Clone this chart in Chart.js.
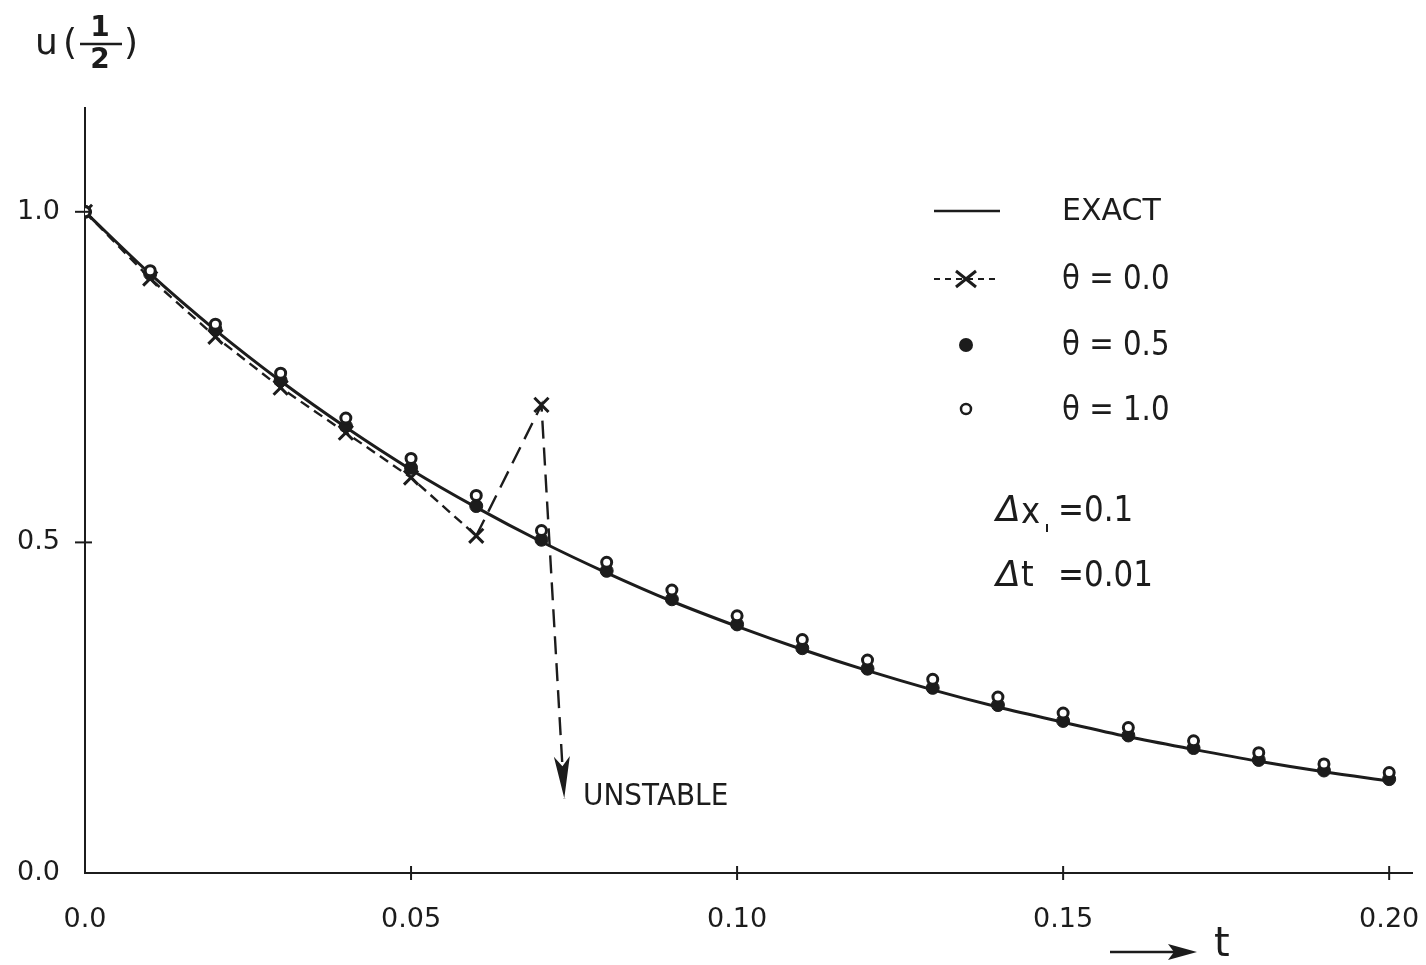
<!DOCTYPE html>
<html>
<head>
<meta charset="utf-8">
<script src="https://cdn.jsdelivr.net/npm/chart.js@4"></script>
<style>
  html, body { margin: 0; padding: 0; background: #fff; }
  canvas { display: block; }
</style>
</head>
<body>
<canvas id="wykr" width="1426" height="965"></canvas>
<script>
// t values (time steps, dt = 0.01)
const tValues = [0, 0.01, 0.02, 0.03, 0.04, 0.05, 0.06, 0.07, 0.08, 0.09, 0.10,
  0.11, 0.12, 0.13, 0.14, 0.15, 0.16, 0.17, 0.18, 0.19, 0.20];
// u(1/2)
const exact = [1.0, 0.906, 0.821, 0.744, 0.674, 0.610, 0.553, 0.501, 0.454, 0.411, 0.373,
  0.338, 0.306, 0.277, 0.251, 0.228, 0.206, 0.187, 0.169, 0.153, 0.139];
const theta05 = [1.0, 0.906, 0.822, 0.745, 0.676, 0.613, 0.555, 0.504, 0.457, 0.414, 0.376,
  0.340, 0.309, 0.280, 0.254, 0.230, 0.208, 0.189, 0.171, 0.155, 0.142];
const theta10 = [1.0, 0.911, 0.830, 0.756, 0.688, 0.627, 0.571, 0.518, 0.470, 0.428, 0.389,
  0.353, 0.322, 0.293, 0.266, 0.242, 0.220, 0.200, 0.182, 0.165, 0.152];
// theta = 0.0 (explicit) - last point is where the "unstable" arrow ends
const theta00T = [0, 0.01, 0.02, 0.03, 0.04, 0.05, 0.06, 0.07, 0.0735];
const theta00 = [1.0, 0.899, 0.811, 0.734, 0.666, 0.598, 0.510, 0.708, 0.113];

const xTickValues = [0, 0.05, 0.10, 0.15, 0.20];
const xTickLabels = ['0.0', '0.05', '0.10', '0.15', '0.20'];
const yTickValues = [0, 0.5, 1.0];
const yTickLabels = ['0.0', '0.5', '1.0'];

const INK = '#1c1c1c';
const FONT = 'DejaVu Sans';

function pts(xs, ys) {
  return xs.map((x, i) => ({ x: x, y: ys[i] }));
}

// text with horizontal squeeze (the original lettering is narrow)
function txt(ctx, s, x, y, size, sx, align, weight) {
  ctx.save();
  ctx.font = (weight || '') + ' ' + size + 'px "' + FONT + '"';
  ctx.textBaseline = 'middle';
  ctx.textAlign = align || 'left';
  ctx.translate(x, y);
  ctx.scale(sx, 1);
  ctx.fillText(s, 0, 0);
  ctx.restore();
}

const decor = {
  id: 'decor',
  afterDatasetsDraw(chart) {
    const ctx = chart.ctx;
    const xs = chart.scales.x, ys = chart.scales.y;
    ctx.save();
    ctx.strokeStyle = INK;
    ctx.fillStyle = INK;
    ctx.lineWidth = 2;
    // tick marks crossing the axes
    xTickValues.forEach(v => {
      if (v === 0) return;
      const px = xs.getPixelForValue(v);
      ctx.beginPath();
      ctx.moveTo(px, ys.bottom - 7);
      ctx.lineTo(px, ys.bottom + 7);
      ctx.stroke();
    });
    yTickValues.forEach(v => {
      if (v === 0) return;
      const py = ys.getPixelForValue(v);
      ctx.beginPath();
      ctx.moveTo(xs.left - 10, py);
      ctx.lineTo(xs.left + 7, py);
      ctx.stroke();
    });
    // arrow head at end of the unstable branch
    const meta = chart.getDatasetMeta(1);
    const n = meta.data.length;
    const a = meta.data[n - 2], b = meta.data[n - 1];
    const ang = Math.atan2(b.y - a.y, b.x - a.x);
    ctx.translate(b.x, b.y);
    ctx.rotate(ang);
    ctx.beginPath();
    ctx.moveTo(0, 0);
    ctx.lineTo(-42, -8);
    ctx.lineTo(-32, 0);
    ctx.lineTo(-42, 8);
    ctx.closePath();
    ctx.fill();
    ctx.restore();
  },
  afterDraw(chart) {
    const ctx = chart.ctx;
    ctx.save();
    ctx.fillStyle = INK;
    ctx.strokeStyle = INK;

    // y axis title u(1/2)
    txt(ctx, 'u', 35, 45, 36, 1);
    txt(ctx, '(', 63, 45, 36, 1);
    txt(ctx, '1', 100, 29, 28, 1, 'center', 'bold');
    ctx.lineWidth = 2.5;
    ctx.beginPath();
    ctx.moveTo(80, 44);
    ctx.lineTo(122, 44);
    ctx.stroke();
    txt(ctx, '2', 100, 61, 28, 1, 'center', 'bold');
    txt(ctx, ')', 124, 45, 36, 1);

    // legend
    const lx0 = 934, lx1 = 1000, lc = 966, tx = 1062;
    ctx.lineWidth = 2.5;
    ctx.beginPath();
    ctx.moveTo(lx0, 211);
    ctx.lineTo(lx1, 211);
    ctx.stroke();
    txt(ctx, 'EXACT', tx, 212, 30, 1.0);

    ctx.lineWidth = 2;
    ctx.setLineDash([6, 5]);
    ctx.beginPath();
    ctx.moveTo(lx0, 279);
    ctx.lineTo(lx1, 279);
    ctx.stroke();
    ctx.setLineDash([]);
    ctx.lineWidth = 3;
    ctx.beginPath();
    ctx.moveTo(lc - 10, 271); ctx.lineTo(lc + 10, 287);
    ctx.moveTo(lc - 10, 287); ctx.lineTo(lc + 10, 271);
    ctx.stroke();
    txt(ctx, 'θ = 0.0', tx, 280, 34, 0.86);

    ctx.beginPath();
    ctx.arc(lc, 345, 7, 0, Math.PI * 2);
    ctx.fill();
    txt(ctx, 'θ = 0.5', tx, 346, 34, 0.86);

    ctx.lineWidth = 2.5;
    ctx.beginPath();
    ctx.arc(lc, 409, 5, 0, Math.PI * 2);
    ctx.stroke();
    txt(ctx, 'θ = 1.0', tx, 411, 34, 0.86);

    // grid spacing note
    ctx.save();
    ctx.font = 'italic 36px "' + FONT + '"';
    ctx.textBaseline = 'middle';
    ctx.fillText('Δ', 996, 512);
    ctx.fillText('Δ', 996, 577);
    ctx.restore();
    txt(ctx, 'x', 1021, 514, 36, 0.9);
    ctx.lineWidth = 2;
    ctx.beginPath();
    ctx.moveTo(1047, 524);
    ctx.lineTo(1047, 532);
    ctx.stroke();
    txt(ctx, '=0.1', 1058, 512, 36, 0.86);
    txt(ctx, 't', 1021, 577, 36, 0.9);
    txt(ctx, '=0.01', 1058, 577, 36, 0.86);

    txt(ctx, 'UNSTABLE', 583, 797, 31, 0.9);

    // t axis arrow
    ctx.lineWidth = 2.5;
    ctx.beginPath();
    ctx.moveTo(1110, 952);
    ctx.lineTo(1180, 952);
    ctx.stroke();
    ctx.beginPath();
    ctx.moveTo(1197, 952);
    ctx.lineTo(1168, 944);
    ctx.lineTo(1174, 952);
    ctx.lineTo(1168, 960);
    ctx.closePath();
    ctx.fill();
    txt(ctx, 't', 1214, 946, 40, 1);
    ctx.restore();
  }
};

new Chart(document.getElementById('wykr'), {
  type: 'scatter',
  data: {
    datasets: [
      {
        label: 'EXACT',
        data: pts(tValues, exact),
        showLine: true,
        borderColor: INK,
        borderWidth: 3,
        pointRadius: 0,
        cubicInterpolationMode: 'monotone',
        order: 4
      },
      {
        label: 'θ = 0.0',
        data: pts(theta00T, theta00),
        showLine: true,
        borderColor: INK,
        borderWidth: 2.4,
        borderDash: [10, 6],
        segment: {
          borderDash: c => c.p0DataIndex >= 6 ? [18, 9] : [10, 6]
        },
        pointStyle: 'crossRot',
        pointRadius: theta00.map((v, i) => i === theta00.length - 1 ? 0 : 10),
        pointBorderWidth: 3,
        pointBorderColor: INK,
        order: 3
      },
      {
        label: 'θ = 0.5',
        data: pts(tValues, theta05),
        showLine: false,
        pointStyle: 'circle',
        pointRadius: 6.5,
        pointBackgroundColor: INK,
        pointBorderColor: INK,
        pointBorderWidth: 1,
        order: 2
      },
      {
        label: 'θ = 1.0',
        data: pts(tValues, theta10),
        showLine: false,
        pointStyle: 'circle',
        pointRadius: 5,
        pointBackgroundColor: '#fff',
        pointBorderColor: INK,
        pointBorderWidth: 3,
        order: 1
      }
    ]
  },
  options: {
    responsive: false,
    animation: false,
    devicePixelRatio: 1,
    layout: { padding: { top: 108, right: 14, left: 0, bottom: 0 } },
    plugins: {
      legend: { display: false },
      tooltip: { enabled: false }
    },
    scales: {
      x: {
        type: 'linear',
        min: 0,
        max: 0.2035,
        afterBuildTicks: s => { s.ticks = xTickValues.map(v => ({ value: v })); },
        afterFit: s => { s.height = 92; s.paddingLeft = 0; s.paddingRight = 0; },
        grid: { drawOnChartArea: false, drawTicks: false },
        border: { display: true, color: INK, width: 2 },
        ticks: {
          padding: 31,
          maxRotation: 0,
          color: INK,
          font: { family: FONT, size: 27 },
          callback: v => xTickLabels[xTickValues.indexOf(v)]
        }
      },
      y: {
        type: 'linear',
        min: 0,
        max: 1.157,
        afterBuildTicks: s => { s.ticks = yTickValues.map(v => ({ value: v })); },
        afterFit: s => { s.width = 85; s.paddingTop = 0; s.paddingBottom = 0; },
        grid: { drawOnChartArea: false, drawTicks: false },
        border: { display: true, color: INK, width: 2 },
        ticks: {
          padding: 25,
          color: INK,
          font: { family: FONT, size: 27 },
          callback: v => yTickLabels[yTickValues.indexOf(v)]
        }
      }
    }
  },
  plugins: [decor]
});
</script>
</body>
</html>
